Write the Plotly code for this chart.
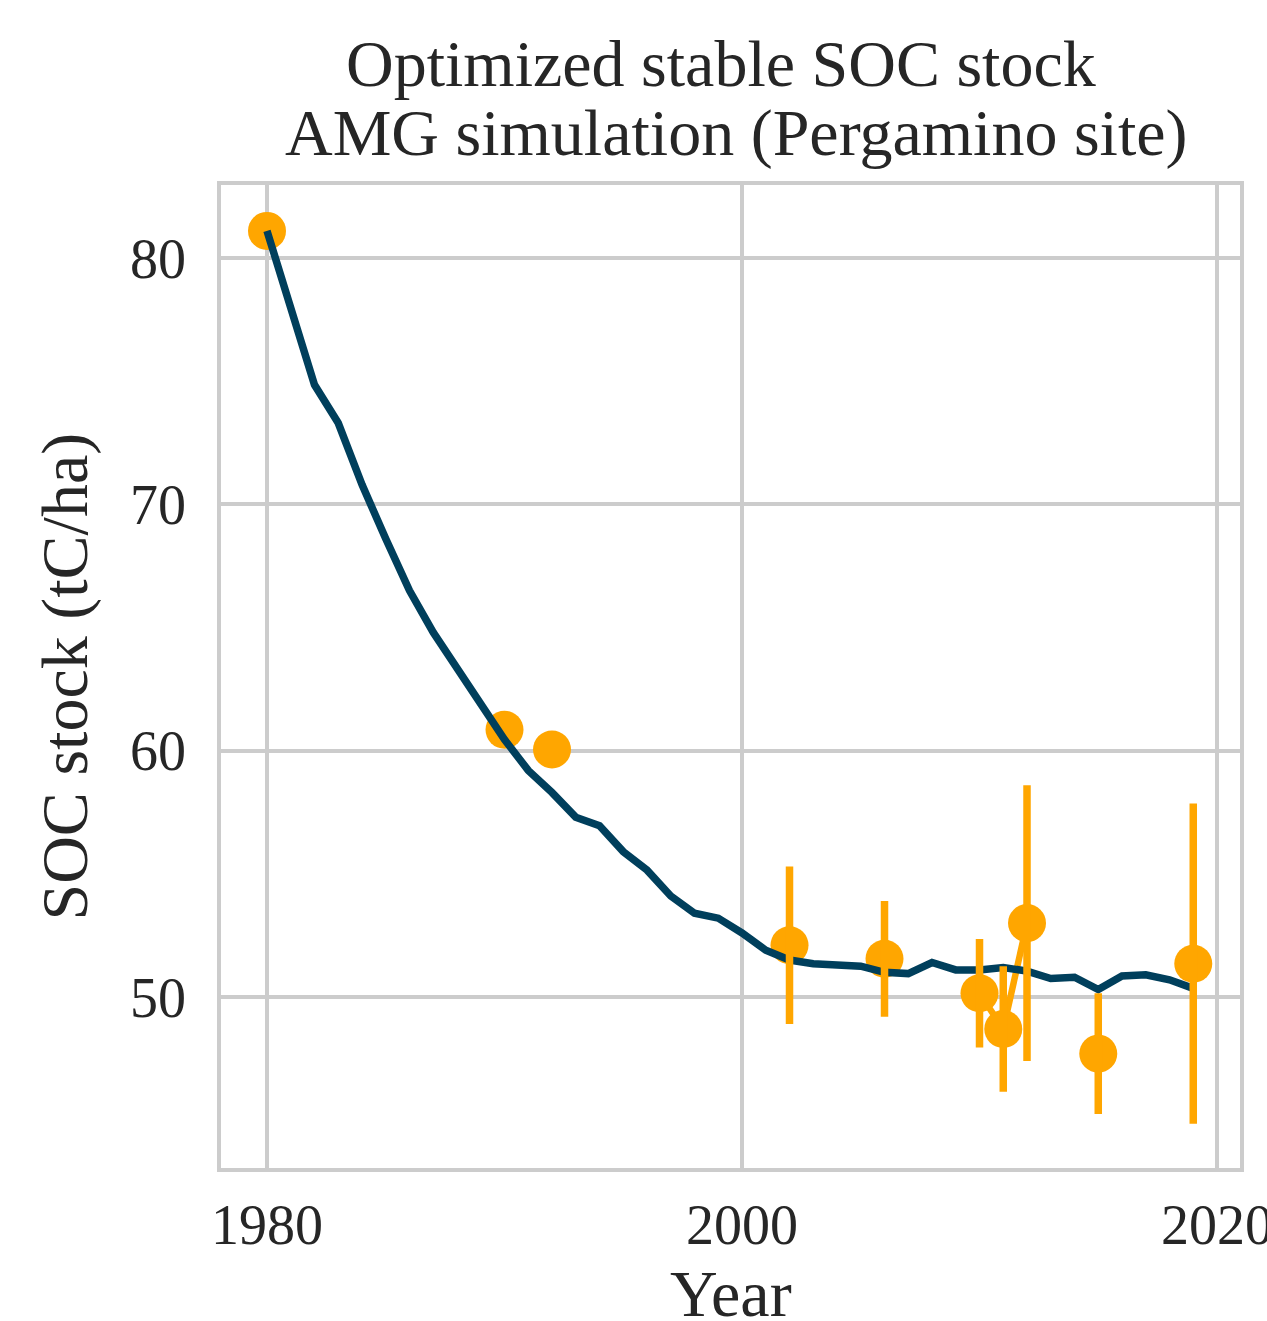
import plotly.graph_objects as go

# Simulated stable SOC stock (AMG), one value per year
sim_years = list(range(1980, 2020))
sim_values = [81.1, 78.0, 74.85, 73.3, 70.8, 68.6, 66.5, 64.8, 63.3, 61.9,
              60.45, 59.2, 58.3, 57.3, 56.95, 55.9, 55.15, 54.1, 53.4, 53.2,
              52.6, 51.9, 51.5, 51.35, 51.3, 51.25, 51.0, 50.95, 51.4, 51.1,
              51.1, 51.2, 51.05, 50.75, 50.8, 50.3, 50.85, 50.9, 50.7, 50.35]

# Observed SOC stock with error
obs_years = [1980, 1990, 1992, 2002, 2006, 2010, 2011, 2012, 2015, 2019]
obs_values = [81.1, 60.85, 60.05, 52.1, 51.55, 50.15, 48.7, 53.0, 47.7, 51.35]
obs_err = [0, 0, 0, 3.2, 2.35, 2.2, 2.55, 5.6, 2.45, 6.5]

x_ticks = [1980, 2000, 2020]
y_ticks = [50, 60, 70, 80]

title_lines = ["Optimized stable SOC stock", "AMG simulation (Pergamino site)"]
x_label = "Year"
y_label = "SOC stock (tC/ha)"

NAVY = "#003f5c"
ORANGE = "#ffa600"
GRID = "#cccccc"
TXT = "#262626"
FONT = "Liberation Serif"

# observed line broken where years are not consecutive
obs_x, obs_y = [], []
for i, (yr, v) in enumerate(zip(obs_years, obs_values)):
    if i > 0 and yr - obs_years[i - 1] > 1:
        obs_x.append(None)
        obs_y.append(None)
    obs_x.append(yr)
    obs_y.append(v)

fig = go.Figure()
fig.add_trace(go.Scatter(
    x=obs_x, y=obs_y, mode="lines+markers",
    line=dict(color=ORANGE, width=6.5),
    marker=dict(color=ORANGE, size=38, line=dict(width=0)),
    connectgaps=False, showlegend=False, hoverinfo="skip"))
fig.add_trace(go.Scatter(
    x=sim_years, y=sim_values, mode="lines",
    line=dict(color=NAVY, width=7.5), showlegend=False))
err_years = [y for y, e in zip(obs_years, obs_err) if e > 0]
err_vals = [v for v, e in zip(obs_values, obs_err) if e > 0]
err_e = [e for e in obs_err if e > 0]
fig.add_trace(go.Scatter(
    x=err_years, y=err_vals, mode="markers",
    marker=dict(color="rgba(0,0,0,0)", size=1),
    error_y=dict(type="data", array=err_e, color=ORANGE, thickness=7.5, width=0),
    showlegend=False, hoverinfo="skip"))

axis_common = dict(
    showgrid=True, gridcolor=GRID, gridwidth=3.5,
    showline=True, linecolor=GRID, linewidth=3.5, mirror=True,
    zeroline=False, ticks="",
    tickfont=dict(family=FONT, size=56, color=TXT),
    ticklabeloverflow="allow", automargin=False,
)
fig.update_xaxes(range=[1978.063, 2020.968], tickvals=x_ticks,
                 ticklabelstandoff=5, **axis_common)
fig.update_yaxes(range=[43.058, 82.963], tickvals=y_ticks,
                 ticklabelstandoff=20, **axis_common)

ann = []
ann.append(dict(text=title_lines[0], x=0.5, y=1, xref="paper", yref="paper",
                xanchor="center", yanchor="bottom", yshift=83, xshift=-10,
                showarrow=False, font=dict(family=FONT, size=66, color=TXT)))
ann.append(dict(text=title_lines[1], x=0.5, y=1, xref="paper", yref="paper",
                xanchor="center", yanchor="bottom", yshift=13, xshift=6,
                showarrow=False, font=dict(family=FONT, size=66, color=TXT)))
ann.append(dict(text=x_label, x=0.5, y=0, xref="paper", yref="paper",
                xanchor="center", yanchor="top", yshift=-87, showarrow=False,
                font=dict(family=FONT, size=66, color=TXT)))
ann.append(dict(text=y_label, x=0, y=0.5, xref="paper", yref="paper",
                xanchor="right", yanchor="middle", xshift=-118, textangle=-90,
                showarrow=False, font=dict(family=FONT, size=66, color=TXT)))

fig.update_layout(
    width=1267, height=1321,
    margin=dict(l=221, r=27, t=185, b=153, autoexpand=False),
    plot_bgcolor="white", paper_bgcolor="white",
    annotations=ann,
    font=dict(family=FONT, color=TXT),
)

fig.write_html("out.html")
